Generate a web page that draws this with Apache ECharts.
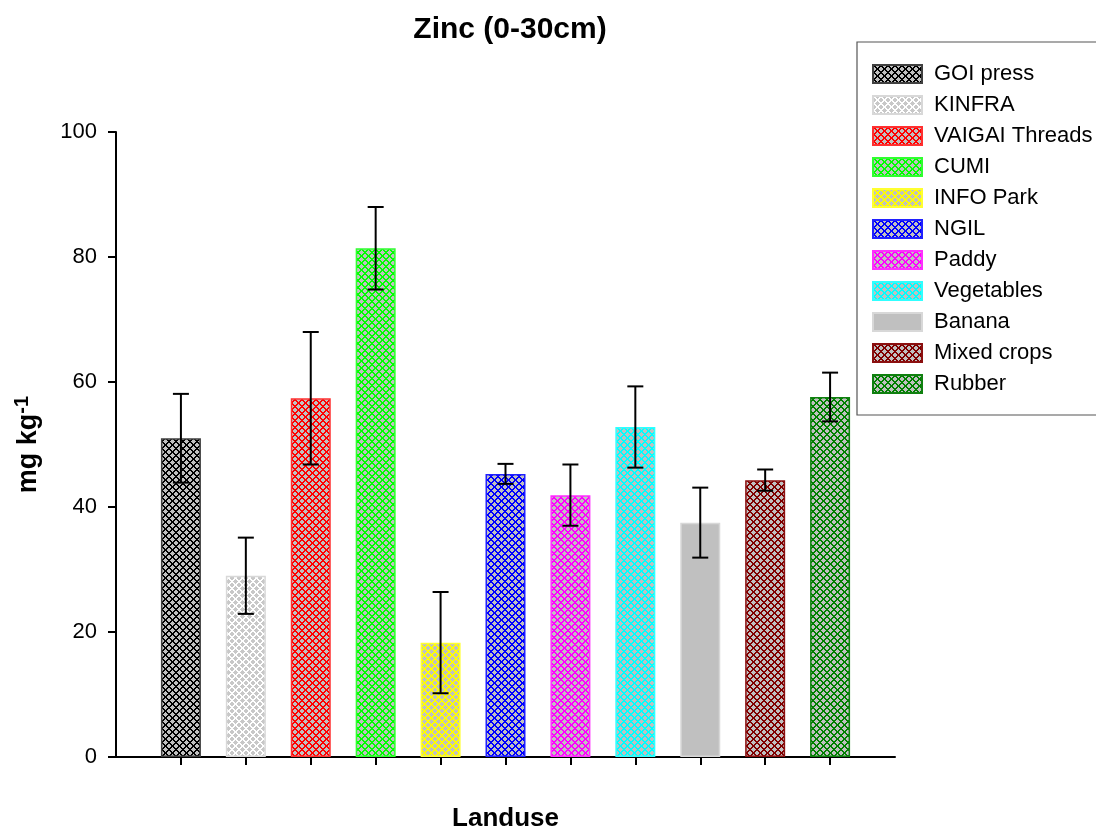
<!DOCTYPE html>
<html>
<head>
<meta charset="utf-8">
<script src="https://cdn.jsdelivr.net/npm/echarts@6/dist/echarts.min.js"></script>
<style>
  html, body { margin: 0; padding: 0; background: #fff; }
  #main { width: 1096px; height: 835px; }
</style>
</head>
<body>
<div id="main"></div>
<script>
// data
const landuse = ['GOI press', 'KINFRA', 'VAIGAI Threads', 'CUMI', 'INFO Park', 'NGIL',
  'Paddy', 'Vegetables', 'Banana', 'Mixed crops', 'Rubber'];
const zinc = [51.0, 29.0, 57.4, 81.4, 18.3, 45.3, 41.9, 52.8, 37.5, 44.3, 57.6];
const zincErr = [7.1, 6.1, 10.6, 6.6, 8.1, 1.6, 4.9, 6.5, 5.6, 1.7, 3.9];
const positions = landuse.map((n, i) => i + 1);

// hatch colour / border colour for each bar (null hatch = plain fill)
const hatchColor = ['#000000', '#ffffff', '#ff0000', '#00ff00', '#ffff00', '#0000ff',
  '#ff00ff', '#00ffff', null, '#800000', '#008000'];
const borderColor = ['#404040', '#d8d8d8', '#ff3030', '#30ff30', '#ffff30', '#2020ff',
  '#ff30ff', '#30ffff', '#d8d8d8', '#8b1010', '#108010'];

// pixel crosshatch like the original export
function makePattern(lineColor) {
  const p = 7;
  const c = document.createElement('canvas');
  c.width = p;
  c.height = p;
  const ctx = c.getContext('2d');
  ctx.fillStyle = lineColor === '#ffffff' ? '#c8c8c8' : '#c0c0c0';
  ctx.fillRect(0, 0, p, p);
  ctx.fillStyle = lineColor;
  for (let x = 0; x < p; x++) {
    for (let y = 0; y < p; y++) {
      let a = (x + y) % p;
      let b = (x - y + p) % p;
      if (a === 0 || a === 1 || b === 0 || b === 1) ctx.fillRect(x, y, 1, 1);
    }
  }
  return { image: c, repeat: 'repeat' };
}

const font = 'Liberation Sans, Arial, sans-serif';

let myChart = echarts.init(document.getElementById('main'));

let barSeries = landuse.map(function (name, i) {
  return {
    name: name,
    type: 'bar',
    barWidth: 40,
    barGap: '-100%',
    itemStyle: {
      color: hatchColor[i] ? makePattern(hatchColor[i]) : '#c0c0c0',
      borderColor: borderColor[i],
      borderWidth: 1.5
    },
    data: [[positions[i], zinc[i]]]
  };
});

let errSeries = {
  name: 'err',
  type: 'custom',
  z: 10,
  silent: true,
  data: positions.map((x, i) => [x, zinc[i] - zincErr[i], zinc[i] + zincErr[i]]),
  renderItem: function (params, api) {
    let lo = api.coord([api.value(0), api.value(1)]);
    let hi = api.coord([api.value(0), api.value(2)]);
    let cap = 8;
    let style = { stroke: '#000', lineWidth: 2 };
    return {
      type: 'group',
      children: [
        { type: 'line', shape: { x1: hi[0], y1: hi[1], x2: lo[0], y2: lo[1] }, style: style },
        { type: 'line', shape: { x1: hi[0] - cap, y1: hi[1], x2: hi[0] + cap, y2: hi[1] }, style: style },
        { type: 'line', shape: { x1: lo[0] - cap, y1: lo[1], x2: lo[0] + cap, y2: lo[1] }, style: style }
      ]
    };
  }
};

myChart.setOption({
  animation: false,
  backgroundColor: '#fff',
  title: {
    text: 'Zinc (0-30cm)',
    left: 505,
    textAlign: 'center',
    top: 10,
    textStyle: { fontFamily: font, fontSize: 30, fontWeight: 'bold', color: '#000' }
  },
  legend: {
    data: landuse,
    orient: 'vertical',
    left: 857,
    top: 42,
    padding: [21, 40, 20, 15],
    itemGap: 9,
    itemWidth: 49,
    itemHeight: 18,
    borderColor: '#555',
    borderWidth: 1.2,
    icon: 'rect',
    textStyle: { fontFamily: font, fontSize: 22, color: '#000', padding: [0, 0, 0, 7] }
  },
  grid: { left: 116, right: 201, top: 132, bottom: 78, outerBoundsMode: 'none' },
  xAxis: {
    type: 'value',
    min: 0,
    max: 12,
    name: 'Landuse',
    nameLocation: 'middle',
    nameGap: 49,
    nameTextStyle: { fontFamily: font, fontSize: 26, fontWeight: 'bold', color: '#000' },
    splitLine: { show: false },
    axisLine: { lineStyle: { color: '#000', width: 2 } },
    axisTick: { customValues: positions, length: 8, lineStyle: { color: '#000', width: 2 } },
    axisLabel: { show: false }
  },
  yAxis: {
    type: 'value',
    min: 0,
    max: 100,
    interval: 20,
    name: '{a|mg kg}{b|-1}',
    nameLocation: 'middle',
    nameGap: 70,
    nameRotate: 90,
    nameTextStyle: {
      rich: {
        a: { fontFamily: font, fontSize: 27, fontWeight: 'bold', color: '#000' },
        b: { fontFamily: font, fontSize: 20, fontWeight: 'bold', color: '#000', padding: [0, 0, 14, 0] }
      }
    },
    splitLine: { show: false },
    axisLine: { show: true, lineStyle: { color: '#000', width: 2 } },
    axisTick: { show: true, length: 8, lineStyle: { color: '#000', width: 2 } },
    axisLabel: { fontFamily: font, fontSize: 22, color: '#000', margin: 19 }
  },
  series: barSeries.concat([errSeries])
});
</script>
</body>
</html>
